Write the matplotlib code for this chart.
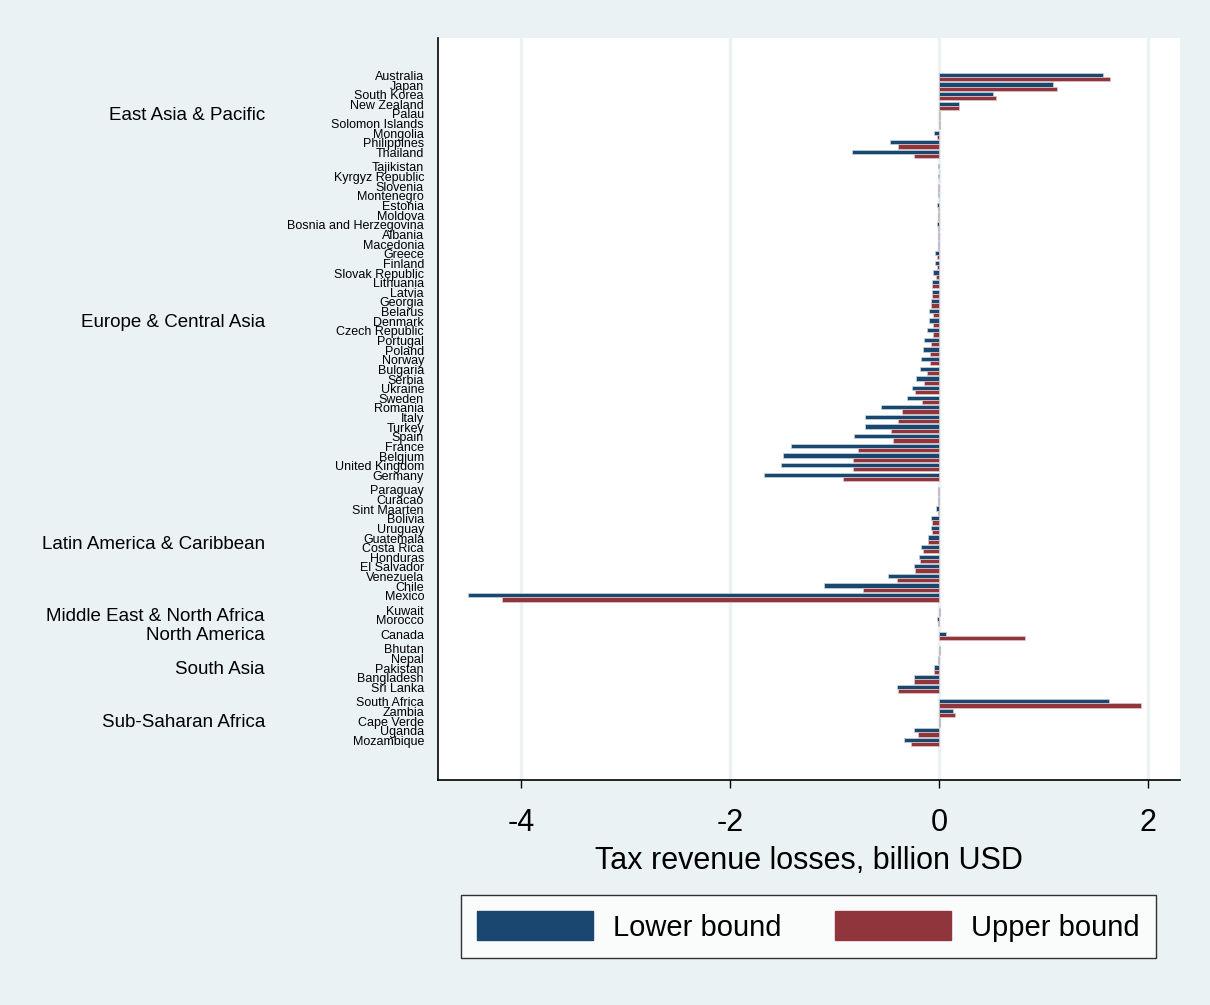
import matplotlib
matplotlib.use("Agg")
import matplotlib.pyplot as plt
from matplotlib.patches import Patch
from matplotlib.transforms import blended_transform_factory

plt.rcParams.update({"font.family": ["Liberation Sans", "DejaVu Sans"]})

NAVY, MAROON = "#1a476f", "#90353b"
BG = "#eaf2f3"

regions = ["East Asia & Pacific", "Europe & Central Asia", "Latin America & Caribbean",
           "Middle East & North Africa", "North America", "South Asia", "Sub-Saharan Africa"]

countries = [
    ["Australia", "Japan", "South Korea", "New Zealand", "Palau", "Solomon Islands",
     "Mongolia", "Philippines", "Thailand"],
    ["Tajikistan", "Kyrgyz Republic", "Slovenia", "Montenegro", "Estonia", "Moldova",
     "Bosnia and Herzegovina", "Albania", "Macedonia", "Greece", "Finland", "Slovak Republic",
     "Lithuania", "Latvia", "Georgia", "Belarus", "Denmark", "Czech Republic", "Portugal",
     "Poland", "Norway", "Bulgaria", "Serbia", "Ukraine", "Sweden", "Romania", "Italy",
     "Turkey", "Spain", "France", "Belgium", "United Kingdom", "Germany"],
    ["Paraguay", "Curacao", "Sint Maarten", "Bolivia", "Uruguay", "Guatemala", "Costa Rica",
     "Honduras", "El Salvador", "Venezuela", "Chile", "Mexico"],
    ["Kuwait", "Morocco"],
    ["Canada"],
    ["Bhutan", "Nepal", "Pakistan", "Bangladesh", "Sri Lanka"],
    ["South Africa", "Zambia", "Cape Verde", "Uganda", "Mozambique"],
]

lower = [
    [1.574, 1.089, 0.520, 0.188, 0.013, 0.010, -0.051, -0.469, -0.836],
    [-0.005, -0.005, -0.006, -0.006, -0.020, -0.010, -0.020, -0.010, -0.012, -0.038, -0.040,
     -0.057, -0.067, -0.067, -0.080, -0.096, -0.096, -0.115, -0.144, -0.153, -0.169, -0.182,
     -0.220, -0.255, -0.303, -0.559, -0.712, -0.712, -0.811, -1.420, -1.497, -1.510, -1.673],
    [-0.010, -0.010, -0.026, -0.080, -0.080, -0.105, -0.169, -0.195, -0.243, -0.484, -1.104, -4.516],
    [0.010, -0.022],
    [0.064],
    [0.010, -0.013, -0.051, -0.243, -0.405],
    [1.625, 0.137, 0.010, -0.243, -0.332],
]

upper = [
    [1.638, 1.130, 0.546, 0.188, 0.010, 0.010, -0.016, -0.396, -0.240],
    [-0.003, -0.004, -0.005, -0.004, -0.010, -0.010, -0.005, -0.008, -0.010, -0.020, -0.020,
     -0.025, -0.067, -0.067, -0.073, -0.057, -0.057, -0.057, -0.073, -0.090, -0.090, -0.115,
     -0.144, -0.230, -0.166, -0.354, -0.393, -0.457, -0.444, -0.776, -0.824, -0.824, -0.917],
    [-0.010, -0.010, -0.010, -0.064, -0.064, -0.105, -0.153, -0.179, -0.227, -0.402, -0.723, -4.187],
    [0.010, -0.006],
    [0.827],
    [0.010, -0.006, -0.048, -0.243, -0.393],
    [1.940, 0.150, 0.013, -0.204, -0.268],
]

W, H = 1210, 1005
fig = plt.figure(figsize=(W / 100, H / 100), dpi=100, facecolor=BG)
ax = fig.add_axes([438 / W, 1 - 780 / H, (1180 - 438) / W, (780 - 38) / H])
ax.set_facecolor("white")

# row positions: one slot per country, half a slot between regions
ys, group_mid = [], []
pos = 0.0
for names in countries:
    start = pos
    for _ in names:
        ys.append(pos)
        pos += 1
    group_mid.append((start + pos - 1) / 2)
    pos += 0.5
flat_names = [n for g in countries for n in g]
flat_lo = [v for g in lower for v in g]
flat_hi = [v for g in upper for v in g]

h = 0.44
ax.barh([y - h / 2 for y in ys], flat_lo, height=h, color=NAVY,
        edgecolor="#c9d6de", linewidth=0.5, zorder=3)
ax.barh([y + h / 2 for y in ys], flat_hi, height=h, color=MAROON,
        edgecolor="#e0c9cb", linewidth=0.5, zorder=3)

ax.set_ylim(ys[-1] + 3.95, ys[0] - 4.04)
ax.set_xlim(-4.80, 2.31)
ax.set_xticks([-4, -2, 0, 2])
ax.set_xticklabels(["-4", "-2", "0", "2"])
ax.tick_params(axis="x", labelsize=22, length=6, width=1, pad=14, color="black")
ax.set_yticks([])
ax.grid(axis="x", color=BG, lw=2.5, zorder=0)
ax.set_axisbelow(True)
for s in ["top", "right"]:
    ax.spines[s].set_visible(False)
for s in ["left", "bottom"]:
    ax.spines[s].set_linewidth(1.2)
ax.set_xlabel("Tax revenue losses, billion USD", fontsize=22, labelpad=6)

tr = blended_transform_factory(fig.transFigure, ax.transData)
for y, name in zip(ys, flat_names):
    ax.text(424 / W, y, name, transform=tr, ha="right", va="center", fontsize=9.0,
            family=["Liberation Sans Narrow", "Liberation Sans", "DejaVu Sans"], clip_on=False)
for y, name in zip(group_mid, regions):
    ax.text(265 / W, y, name, transform=tr, ha="right", va="center", fontsize=13.5,
            clip_on=False)

handles = [Patch(facecolor=NAVY, edgecolor=NAVY, label="Lower bound"),
           Patch(facecolor=MAROON, edgecolor=MAROON, label="Upper bound")]
leg = fig.legend(handles=handles, loc="center", ncol=2,
                 bbox_to_anchor=((459 + 1158) / 2 / W, 1 - 926.5 / H),
                 fontsize=21, handlelength=3.95, handleheight=1.15, handletextpad=0.7,
                 columnspacing=1.85, borderpad=0.55, fancybox=False, frameon=True)
leg.get_frame().set_edgecolor("black")
leg.get_frame().set_linewidth(1.0)
leg.get_frame().set_facecolor("white")

fig.savefig("out.png", dpi=100, facecolor=BG)
